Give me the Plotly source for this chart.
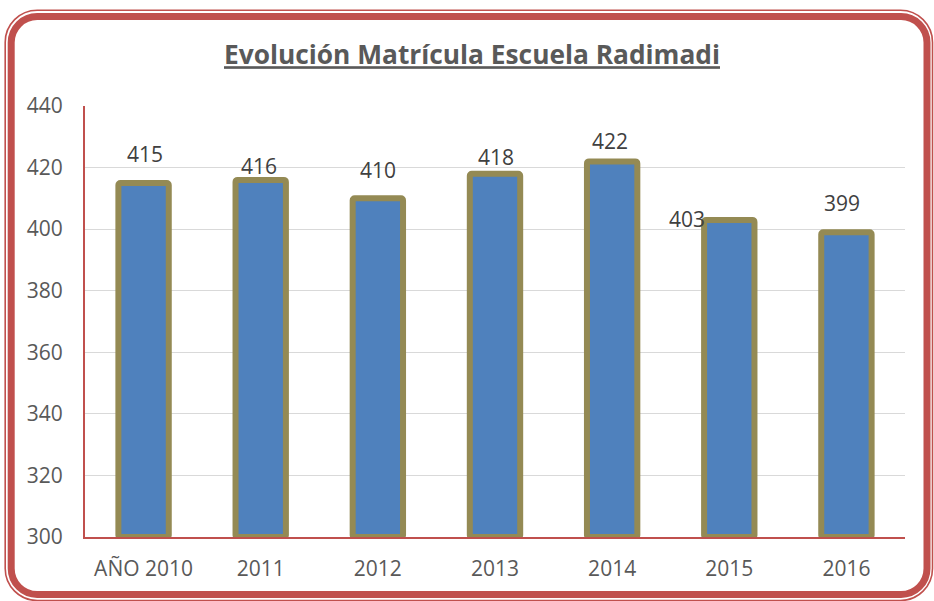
import plotly.graph_objects as go

# ---- data ----
categories = ["AÑO 2010", "2011", "2012", "2013", "2014", "2015", "2016"]
matricula = [415, 416, 410, 418, 422, 403, 399]
y_ticks = [300, 320, 340, 360, 380, 400, 420, 440]

# ---- label placement styles (pixel offsets from each bar top) ----
label_dx = [1, -1.5, 0, 1, -2, -42, -4.5]
label_dy = [29, 14, 28, 17, 20, 1, 29]

W, H = 934, 601
ML, MR, MT, MB = 85, 29, 106, 64
PW, PH = W - ML - MR, H - MT - MB

RED = "#C0504D"
BLUE = "#4F81BD"
OLIVE = "#948A54"
TXT = "#595959"
FONT = "Open Sans"


def px(x):
    return (x - ML) / PW


def py(y):
    return (H - MB - y) / PH


def rounded_rect_path(x0, y0, x1, y1, r):
    k = 0.5523 * r
    pts = []
    pts.append(f"M {px(x0 + r)},{py(y0)}")
    pts.append(f"L {px(x1 - r)},{py(y0)}")
    pts.append(f"C {px(x1 - r + k)},{py(y0)} {px(x1)},{py(y0 + r - k)} {px(x1)},{py(y0 + r)}")
    pts.append(f"L {px(x1)},{py(y1 - r)}")
    pts.append(f"C {px(x1)},{py(y1 - r + k)} {px(x1 - r + k)},{py(y1)} {px(x1 - r)},{py(y1)}")
    pts.append(f"L {px(x0 + r)},{py(y1)}")
    pts.append(f"C {px(x0 + r - k)},{py(y1)} {px(x0)},{py(y1 - r + k)} {px(x0)},{py(y1 - r)}")
    pts.append(f"L {px(x0)},{py(y0 + r)}")
    pts.append(f"C {px(x0)},{py(y0 + r - k)} {px(x0 + r - k)},{py(y0)} {px(x0 + r)},{py(y0)}")
    pts.append("Z")
    return " ".join(pts)


fig = go.Figure()
fig.add_trace(go.Bar(
    x=categories,
    y=[v - 300 for v in matricula],
    base=300,
    width=0.43,
    marker=dict(color=BLUE, line=dict(color=OLIVE, width=6), cornerradius=2),
    hoverinfo="skip",
))

annotations = []
for i, (v, dx, dy) in enumerate(zip(matricula, label_dx, label_dy)):
    annotations.append(dict(
        x=i, y=v, xref="x", yref="y", text=str(v), showarrow=False,
        xanchor="center", yanchor="middle", xshift=dx, yshift=dy,
        font=dict(family=FONT, size=21, color="#404040"),
    ))

shapes = [
    dict(type="path", xref="paper", yref="paper",
         path=rounded_rect_path(11.2, 16.6, 927, 594.5, 26),
         line=dict(color=RED, width=7), fillcolor="rgba(0,0,0,0)", layer="above"),
    dict(type="path", xref="paper", yref="paper",
         path=rounded_rect_path(5.2, 10.3, 932.5, 600.5, 32),
         line=dict(color=RED, width=1.6), fillcolor="rgba(0,0,0,0)", layer="above"),
]

fig.update_layout(
    width=W, height=H,
    margin=dict(l=ML, r=MR, t=MT, b=MB, pad=0, autoexpand=False),
    paper_bgcolor="white", plot_bgcolor="white",
    showlegend=False,
    title=dict(
        text="<b>Evolución Matrícula Escuela Radimadi</b>",
        x=472 / W, xref="container", xanchor="center",
        y=1 - 55 / H, yref="container", yanchor="middle",
        font=dict(family=FONT, size=26.3, color=TXT, lineposition="under"),
    ),
    xaxis=dict(
        type="category", range=[-0.5, 6.5], autorange=False,
        showgrid=False, zeroline=False, automargin=False,
        showline=True, linecolor=RED, linewidth=2,
        ticks="", ticklabelstandoff=12,
        tickfont=dict(family=FONT, size=21, color=TXT),
    ),
    yaxis=dict(
        range=[300, 440], autorange=False, tickvals=y_ticks, automargin=False,
        showgrid=True, gridcolor="#D9D9D9", gridwidth=1.3, zeroline=False,
        showline=True, linecolor=RED, linewidth=2,
        ticks="", ticklabelstandoff=16,
        tickfont=dict(family=FONT, size=21, color=TXT),
    ),
    annotations=annotations,
    shapes=shapes,
)

fig.write_html(
    "out.html",
    config={"displayModeBar": False},
    post_script="document.body.style.margin='0';document.body.style.padding='0';document.body.style.overflow='hidden';",
)
